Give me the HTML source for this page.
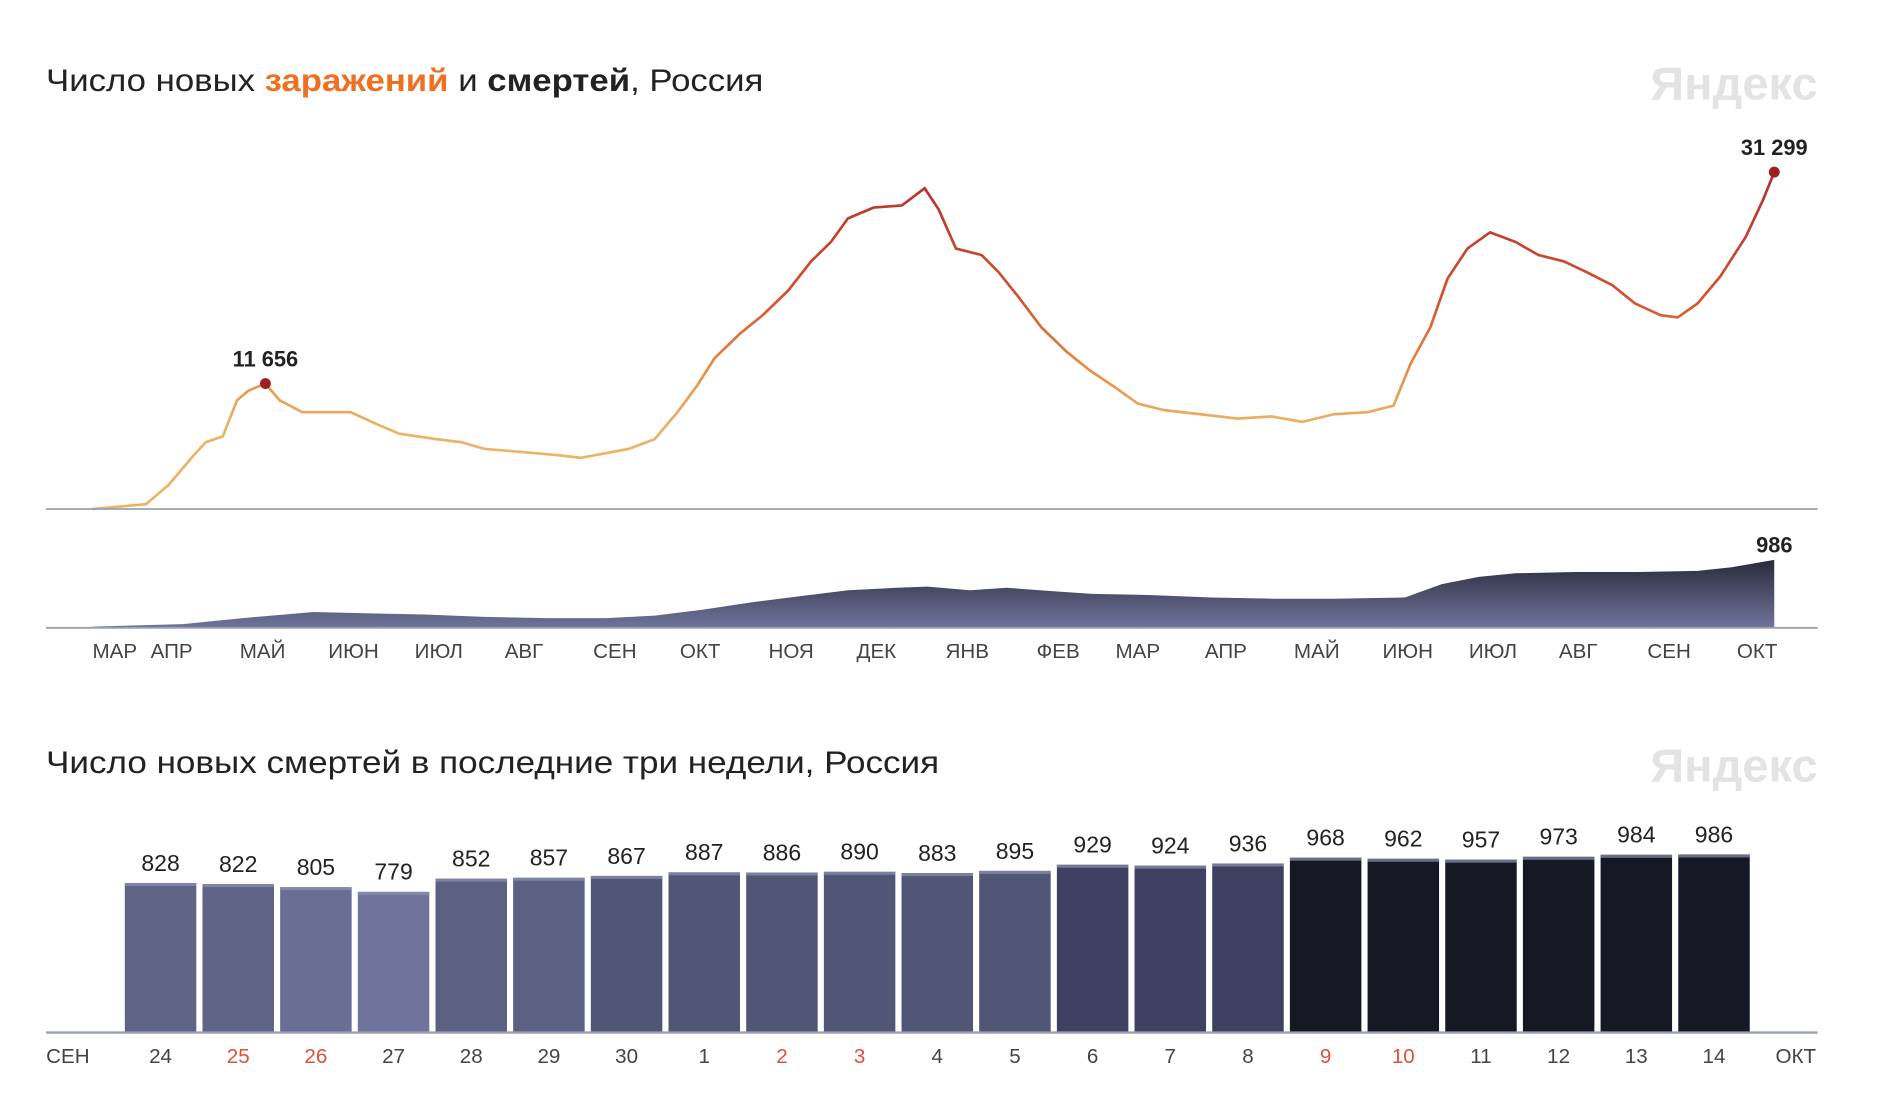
<!DOCTYPE html>
<html><head><meta charset="utf-8"><style>
body{margin:0;background:#fff;}
svg{display:block;font-family:"Liberation Sans","DejaVu Sans",sans-serif;}
</style></head><body>
<svg id="root" width="1900" height="1115" viewBox="0 0 1568 920" preserveAspectRatio="none">
<defs>
<linearGradient id="lineGrad" gradientUnits="userSpaceOnUse" x1="0" y1="150" x2="0" y2="420">
<stop offset="0" stop-color="#b8322c"/><stop offset="0.35" stop-color="#d4502f"/><stop offset="0.6" stop-color="#e8944a"/><stop offset="0.75" stop-color="#ebb366"/><stop offset="1" stop-color="#ebb366"/>
</linearGradient>
<linearGradient id="areaGrad" gradientUnits="userSpaceOnUse" x1="0" y1="460" x2="0" y2="518">
<stop offset="0" stop-color="#262838"/><stop offset="1" stop-color="#70749b"/>
</linearGradient>
</defs>
<text x="38" y="75" font-size="26" fill="#222" textLength="592" lengthAdjust="spacingAndGlyphs">Число новых <tspan fill="#f07022" font-weight="bold">заражений</tspan> и <tspan font-weight="bold">смертей</tspan>, Россия</text>
<text x="1362" y="82" font-size="38" fill="#e3e3e3" font-weight="bold" textLength="138" lengthAdjust="spacingAndGlyphs">Яндекс</text>
<text x="38" y="638" font-size="26" fill="#222" textLength="737" lengthAdjust="spacingAndGlyphs">Число новых смертей в последние три недели, Россия</text>
<text x="1362" y="645" font-size="38" fill="#e3e3e3" font-weight="bold" textLength="138" lengthAdjust="spacingAndGlyphs">Яндекс</text>
<g id="topchart"></g>
<g id="bars"></g>
</svg>
<script>
const caseDays=[0,19,27,36,40,46,51,55,61,66,74,83,91,100,108,121,130,138,151,164,172,181,189,198,206,213,219,228,236,245,253,260,266,275,285,293,298,304,313,319,326,334,343,351,360,368,377,390,403,415,426,437,449,458,464,471,477,484,492,501,509,518,526,535,543,552,558,565,573,582,588,592];
const caseValues=[0,450,2250,5070,6200,6760,10100,11000,11656,10100,9000,9000,9000,7900,7000,6500,6200,5600,5300,5000,4750,5200,5600,6500,9000,11500,14000,16300,18000,20300,23000,24800,27000,28000,28200,29800,27800,24200,23600,22000,19700,16900,14600,12900,11300,9800,9200,8800,8400,8600,8100,8800,9000,9600,13500,16900,21400,24200,25700,24800,23600,23000,22000,20800,19100,18000,17800,19100,21600,25300,28700,31299];
const deathDays=[0,32,53,78,96,117,138,160,181,198,215,232,249,266,283,294,309,322,339,352,373,394,416,437,462,475,488,501,522,543,565,577,592];
const deathValues=[18,53,140,229,211,194,158,140,140,176,264,370,458,546,581,598,546,581,528,493,475,440,422,422,440,634,739,792,810,810,827,880,986];
const monthLabels=["МАР","АПР","МАЙ","ИЮН","ИЮЛ","АВГ","СЕН","ОКТ","НОЯ","ДЕК","ЯНВ","ФЕВ","МАР","АПР","МАЙ","ИЮН","ИЮЛ","АВГ","СЕН","ОКТ"];
const monthDays=[8,28,60,92,122,152,184,214,246,276,308,340,368,399,431,463,493,523,555,586];
const barDates=["24","25","26","27","28","29","30","1","2","3","4","5","6","7","8","9","10","11","12","13","14"];
const barValues=[828,822,805,779,852,857,867,887,886,890,883,895,929,924,936,968,962,957,973,984,986];
const holidays=["25","26","2","3","9","10"];

const NS="http://www.w3.org/2000/svg";
function mk(tag,attrs,parent){const e=document.createElementNS(NS,tag);for(const k in attrs)e.setAttribute(k,attrs[k]);parent.appendChild(e);return e;}
const topG=document.getElementById('topchart'), bars=document.getElementById('bars');
const xd=d=>76+d*2.345;
const yc=v=>420-v*278/31299;
const yd=v=>518-v*56/986;

let p=caseDays.map((d,i)=>(i?'L':'M')+xd(d).toFixed(1)+','+yc(caseValues[i]).toFixed(1)).join('');
let area='M'+xd(deathDays[0])+',518'+deathDays.map((d,i)=>'L'+xd(d).toFixed(1)+','+yd(deathValues[i]).toFixed(1)).join('')+'L'+xd(deathDays[deathDays.length-1])+',518Z';
const ar=mk('path',{d:area,fill:'url(#areaGrad)'},topG);


const ln=mk('path',{d:p,fill:'none',stroke:'url(#lineGrad)','stroke-width':2.2,'stroke-linejoin':'round'},topG);


const b1=mk('line',{x1:38,x2:1500,y1:420,y2:420,stroke:'#9aa0b2','stroke-width':1.5},topG);


const b2=mk('line',{x1:38,x2:1500,y1:518,y2:518,stroke:'#9aa0b2','stroke-width':1.5},topG);


const pk=8, last=caseDays.length-1;
const d1=mk('circle',{cx:xd(caseDays[pk]),cy:yc(caseValues[pk]),r:4.5,fill:'#9e1f22'},topG);


const t1=mk('text',{x:xd(caseDays[pk]),y:yc(caseValues[pk])-14,'font-size':18,'font-weight':'bold','text-anchor':'middle',fill:'#222'},topG);
t1.textContent='11 656';


const d2=mk('circle',{cx:xd(caseDays[last]),cy:yc(caseValues[last]),r:4.5,fill:'#9e1f22'},topG);


const t2=mk('text',{x:xd(caseDays[last]),y:yc(caseValues[last])-14,'font-size':18,'font-weight':'bold','text-anchor':'middle',fill:'#222'},topG);
t2.textContent='31 299';


const t3=mk('text',{x:xd(deathDays[deathDays.length-1]),y:yd(deathValues[deathValues.length-1])-6,'font-size':18,'font-weight':'bold','text-anchor':'middle',fill:'#222'},topG);
t3.textContent=String(deathValues[deathValues.length-1]);


monthLabels.forEach((m,i)=>{
 const t=mk('text',{x:xd(monthDays[i]),y:543,'font-size':17,'text-anchor':'middle',fill:'#444'},topG);
 t.textContent=m;
 
 
});
const bx=i=>103+i*64.1, bw=59;
const yb=v=>852-v*147/986;
function col(v){if(v<790)return'#70749c';if(v<815)return'#6a6e94';if(v<840)return'#5f6385';if(v<860)return'#5c6082';if(v<900)return'#515576';if(v<950)return'#3e4161';return'#161824';}
barValues.forEach((v,i)=>{
 const r=mk('rect',{x:bx(i),y:yb(v),width:bw,height:852-yb(v),fill:col(v)},bars);
 
 
 const s=mk('rect',{x:bx(i),y:yb(v),width:bw,height:2.5,fill:'#8f93b0',opacity:0.7},bars);
 
 
 const t=mk('text',{x:bx(i)+bw/2,y:yb(v)-10,'font-size':19,'text-anchor':'middle',fill:'#222'},bars);
 t.textContent=String(v);
 
 
 const d=mk('text',{x:bx(i)+bw/2,y:877,'font-size':17,'text-anchor':'middle',fill:holidays.includes(barDates[i])?'#e0503c':'#444'},bars);
 d.textContent=barDates[i];
 
 
});
const bl=mk('line',{x1:38,x2:1500,y1:852,y2:852,stroke:'#9aa0b2','stroke-width':2},bars);


const sen=mk('text',{x:56,y:877,'font-size':17,'text-anchor':'middle',fill:'#444'},bars);
sen.textContent='СЕН';


const okt=mk('text',{x:1482,y:877,'font-size':17,'text-anchor':'middle',fill:'#444'},bars);
okt.textContent='ОКТ';


</script>
</body></html>
